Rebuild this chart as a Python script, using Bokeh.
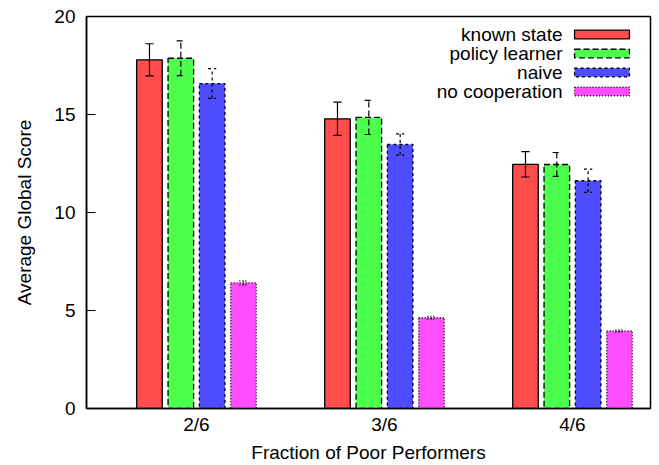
from bokeh.plotting import figure
from bokeh.models import Range1d, FixedTicker, Label, BoxAnnotation
from bokeh.embed import file_html
from bokeh.resources import INLINE

# ---- data ----
categories = ["2/6", "3/6", "4/6"]
series_names = ["known state", "policy learner", "naive", "no cooperation"]
known_state = [17.79, 14.78, 12.46]
known_state_err = [0.82, 0.85, 0.65]
policy_learner = [17.87, 14.85, 12.45]
policy_learner_err = [0.89, 0.87, 0.61]
naive = [16.58, 13.47, 11.62]
naive_err = [0.76, 0.54, 0.59]
no_cooperation = [6.41, 4.63, 3.96]
no_cooperation_err = [0.10, 0.07, 0.05]
y_ticks = [0, 5, 10, 15, 20]

values = [known_state, policy_learner, naive, no_cooperation]
errors = [known_state_err, policy_learner_err, naive_err, no_cooperation_err]

# ---- styles ----
FONT = "Liberation Sans"
FS = "19px"
fills = ["#ff4d4d", "#4dff4d", "#4d4dff", "#ff4dff"]
dashes = ["solid", "6 3", "3 3", "1 2"]
offsets = [-0.25, -0.0833, 0.0833, 0.25]
bar_w = 0.136
cap_half = 0.022

p = figure(width=659, height=465, output_backend="svg", toolbar_location=None,
           x_range=Range1d(-0.585, 2.415), y_range=Range1d(0, 20),
           min_border_left=86, min_border_right=9, min_border_top=16, min_border_bottom=57)
p.background_fill_color = "white"
p.border_fill_color = "white"
p.outline_line_color = "black"
p.outline_line_width = 1.5
p.grid.visible = False

for k in range(4):
    xs = [i + offsets[k] for i in range(len(categories))]
    v = values[k]
    e = errors[k]
    p.vbar(x=xs, top=v, bottom=0, width=bar_w, fill_color=fills[k], fill_alpha=1.0,
           line_color="black", line_width=1.3, line_dash=dashes[k])
    lo = [a - b for a, b in zip(v, e)]
    hi = [a + b for a, b in zip(v, e)]
    p.segment(x0=xs, y0=lo, x1=xs, y1=hi, line_color="black", line_width=1.2, line_dash=dashes[k])
    cl = [x - cap_half for x in xs]
    cr = [x + cap_half for x in xs]
    p.segment(x0=cl, y0=lo, x1=cr, y1=lo, line_color="black", line_width=1.2, line_dash=dashes[k])
    p.segment(x0=cl, y0=hi, x1=cr, y1=hi, line_color="black", line_width=1.2, line_dash=dashes[k])

# axes
p.xaxis.ticker = FixedTicker(ticks=list(range(len(categories))))
p.xaxis.major_label_overrides = {i: c for i, c in enumerate(categories)}
p.yaxis.ticker = FixedTicker(ticks=y_ticks)
for ax in (p.xaxis, p.yaxis):
    ax.axis_line_color = "black"
    ax.axis_line_width = 1.5
    ax.major_tick_line_color = "black"
    ax.major_tick_line_width = 1
    ax.minor_tick_line_color = None
    ax.major_label_text_font = FONT
    ax.major_label_text_font_size = FS
    ax.major_label_text_color = "black"
    ax.axis_label_text_font = FONT
    ax.axis_label_text_font_size = FS
    ax.axis_label_text_font_style = "normal"
    ax.axis_label_text_color = "black"
p.xaxis.major_tick_in = 0
p.xaxis.major_tick_out = 0
p.yaxis.major_tick_in = 9
p.yaxis.major_tick_out = 0
p.yaxis.major_label_standoff = 11
p.xaxis.major_label_standoff = 5
p.xaxis.axis_label = "Fraction of Poor Performers"
p.yaxis.axis_label = "Average Global Score"
p.xaxis.axis_label_standoff = 4
p.yaxis.axis_label_standoff = 16

# legend (gnuplot style: text right-aligned, sample box on the right)
leg_top = 19.08
leg_step = 0.97
leg_text_x = 1.947
leg_box_l = 2.011
leg_box_r = 2.303
leg_box_h = 0.22
for k, name in enumerate(series_names):
    yy = leg_top - k * leg_step
    p.add_layout(Label(x=leg_text_x, y=yy, text=name, text_align="right", text_baseline="middle",
                       text_font=FONT, text_font_size=FS, text_color="black"))
    p.add_layout(BoxAnnotation(left=leg_box_l, right=leg_box_r, bottom=yy - leg_box_h, top=yy + leg_box_h,
                               fill_color=fills[k], fill_alpha=1.0, line_color="black",
                               line_width=1.3, line_dash=dashes[k], line_alpha=1.0))

open("out.html", "w").write(file_html(p, INLINE))
